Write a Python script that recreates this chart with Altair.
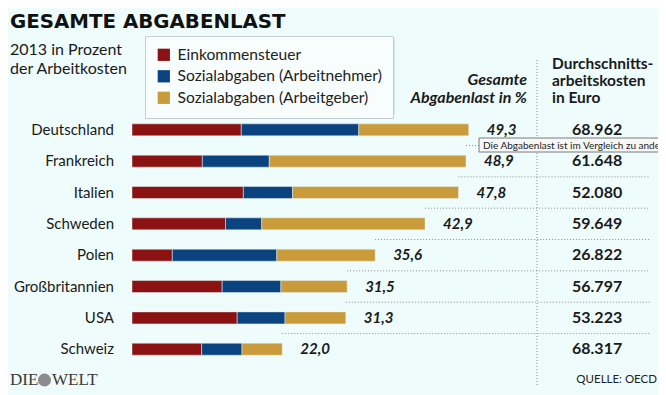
import altair as alt
import pandas as pd

# ---- data ----
countries = ["Deutschland", "Frankreich", "Italien", "Schweden", "Polen",
             "Großbritannien", "USA", "Schweiz"]
einkommensteuer = [16.0, 10.3, 16.3, 13.7, 5.9, 13.2, 15.4, 10.2]
sozial_an = [17.2, 9.8, 7.2, 5.3, 15.3, 8.6, 7.0, 5.9]
totals = [49.3, 48.9, 47.8, 42.9, 35.6, 31.5, 31.3, 22.0]
total_labels = ["49,3", "48,9", "47,8", "42,9", "35,6", "31,5", "31,3", "22,0"]
kosten_labels = ["68.962", "61.648", "52.080", "59.649", "26.822", "56.797",
                 "53.223", "68.317"]
categories = ["Einkommensteuer", "Sozialabgaben (Arbeitnehmer)",
              "Sozialabgaben (Arbeitgeber)"]
colors = ["#8b1212", "#0b4381", "#c99b3a"]

FONT = "Lato"
BG = "#effcfc"

# ---- tables ----
rows = []
for i, c in enumerate(countries):
    a = einkommensteuer[i]
    b = sozial_an[i]
    g = round(totals[i] - a - b, 2)
    start = 0.0
    for cat, v in zip(categories, [a, b, g]):
        rows.append({"idx": i, "country": c, "cat": cat, "start": start,
                     "end": start + v, "value": v})
        start += v
segs = pd.DataFrame(rows)

per_country = pd.DataFrame({
    "idx": list(range(len(countries))),
    "country": countries,
    "total": totals,
    "tlabel": total_labels,
    "klabel": kosten_labels,
})

seps = pd.DataFrame({
    "pos": [i + 0.5 for i in range(len(countries) - 1)],
    "start": totals[1:],
})

xs = alt.Scale(domain=[-18.155, 77.01], range=[0, 650])
ys = alt.Scale(domain=[-3.728, 8.046], range=[0, 379])

X = lambda f: alt.X(f, type="quantitative", scale=xs, axis=None)
Y = lambda f: alt.Y(f, type="quantitative", scale=ys, axis=None)

one = pd.DataFrame({"d": [0]})


def note(text, x, y, font=FONT, **style):
    return alt.Chart(one).mark_text(text=text, font=font, **style).encode(
        x=alt.value(x), y=alt.value(y))


bars = alt.Chart(segs).mark_bar(size=12, orient="horizontal", stroke="#e6f2f2",
                               strokeWidth=0.5).encode(
    x=X("start"), x2="end", y=Y("idx"),
    color=alt.Color("cat:N", sort=categories,
                    scale=alt.Scale(domain=categories, range=colors),
                    legend=alt.Legend(title=None, orient="none", legendX=137,
                                      legendY=28, fillColor="#f8fefe",
                                      strokeColor="#c5cfcf", padding=11,
                                      symbolType="square", symbolSize=150,
                                      symbolStrokeWidth=0, labelFont=FONT,
                                      labelFontSize=15.6, labelColor="#222222",
                                      rowPadding=4.5, labelOffset=6,
                                      labelLimit=300)),
)

country_text = alt.Chart(per_country).mark_text(
    align="right", baseline="middle", font=FONT, fontSize=15, color="#1a1a1a"
).encode(x=alt.value(106), y=Y("idx"), text="country:N")

total_text = alt.Chart(per_country).mark_text(
    align="left", baseline="middle", font=FONT, fontSize=15, fontWeight="bold",
    fontStyle="italic", color="#1a1a1a", dx=18
).encode(x=X("total"), y=Y("idx"), text="tlabel:N")

kosten_text = alt.Chart(per_country).mark_text(
    align="left", baseline="middle", font=FONT, fontSize=16, fontWeight="bold",
    color="#1a1a1a"
).encode(x=alt.value(564), y=Y("idx"), text="klabel:N")

sep_rules = alt.Chart(seps).mark_rule(
    color="#8a8a8a", strokeDash=[1, 2], strokeWidth=1
).encode(x=X("start"), x2=alt.value(642), y=Y("pos"))

vrule = alt.Chart(one).mark_rule(
    color="#8a8a8a", strokeDash=[1, 2], strokeWidth=1
).encode(x=alt.value(529), y=alt.value(52), y2=alt.value(377))

shadow = alt.Chart(one).mark_rect(color="#d3dada", opacity=0.7,
                                   cornerRadius=2).encode(
    x=alt.value(139), x2=alt.value(387), y=alt.value(30), y2=alt.value(107))

title = note("GESAMTE ABGABENLAST", 2, 20.3, font="DejaVu Sans", align="left",
             baseline="alphabetic", fontSize=19.8, fontWeight="bold",
             color="#111111")
subtitle = note(["2013 in Prozent", "der Arbeitkosten"], 2, 42, align="left",
                baseline="middle", fontSize=16, lineHeight=19, color="#1a1a1a")
head1 = note(["Gesamte", "Abgabenlast in %"], 519, 72, align="right",
             baseline="middle", fontSize=16, fontWeight="bold",
             fontStyle="italic", lineHeight=17.5, color="#1a1a1a")
head2 = note(["Durchschnitts-", "arbeitskosten", "in Euro"], 544, 56,
             align="left", baseline="middle", fontSize=15.5, fontWeight="bold",
             lineHeight=16.8, color="#1a1a1a")
quelle = note("QUELLE: OECD", 649, 372, align="right", baseline="middle",
              fontSize=11.5, color="#222222")
logo1 = note("DIE", 2, 372, font="Liberation Serif", fontSize=17,
             align="left", baseline="middle", color="#3a3a3a")
logo_globe = alt.Chart(one).mark_point(filled=True, size=170, color="#8c8c8c",
                                       opacity=1).encode(
    x=alt.value(36.5), y=alt.value(372))
logo2 = note("WELT", 44, 372, font="Liberation Serif", fontSize=17,
             align="left", baseline="middle", color="#3a3a3a")

tip_box = alt.Chart(one).mark_rect(fill="#f6f8f8", stroke="#7a7a7a",
                                   strokeWidth=1).encode(
    x=alt.value(471), x2=alt.value(700), y=alt.value(130), y2=alt.value(144))
tip_text = note("Die Abgabenlast ist im Vergleich zu anderen westlichen Ländern hoch",
                475, 137.5, align="left", baseline="middle", fontSize=10,
                color="#222222")

chart = alt.layer(
    shadow, sep_rules, vrule, bars, country_text, total_text, kosten_text,
    title, subtitle, head1, head2, quelle, logo1, logo_globe, logo2,
    tip_box, tip_text
).properties(
    width=650, height=387, background=BG, padding=0,
    autosize=alt.AutoSizeParams(type="none")
).configure_view(stroke=None)

chart.save("out.html", embed_options={"renderer": "svg", "actions": False})
